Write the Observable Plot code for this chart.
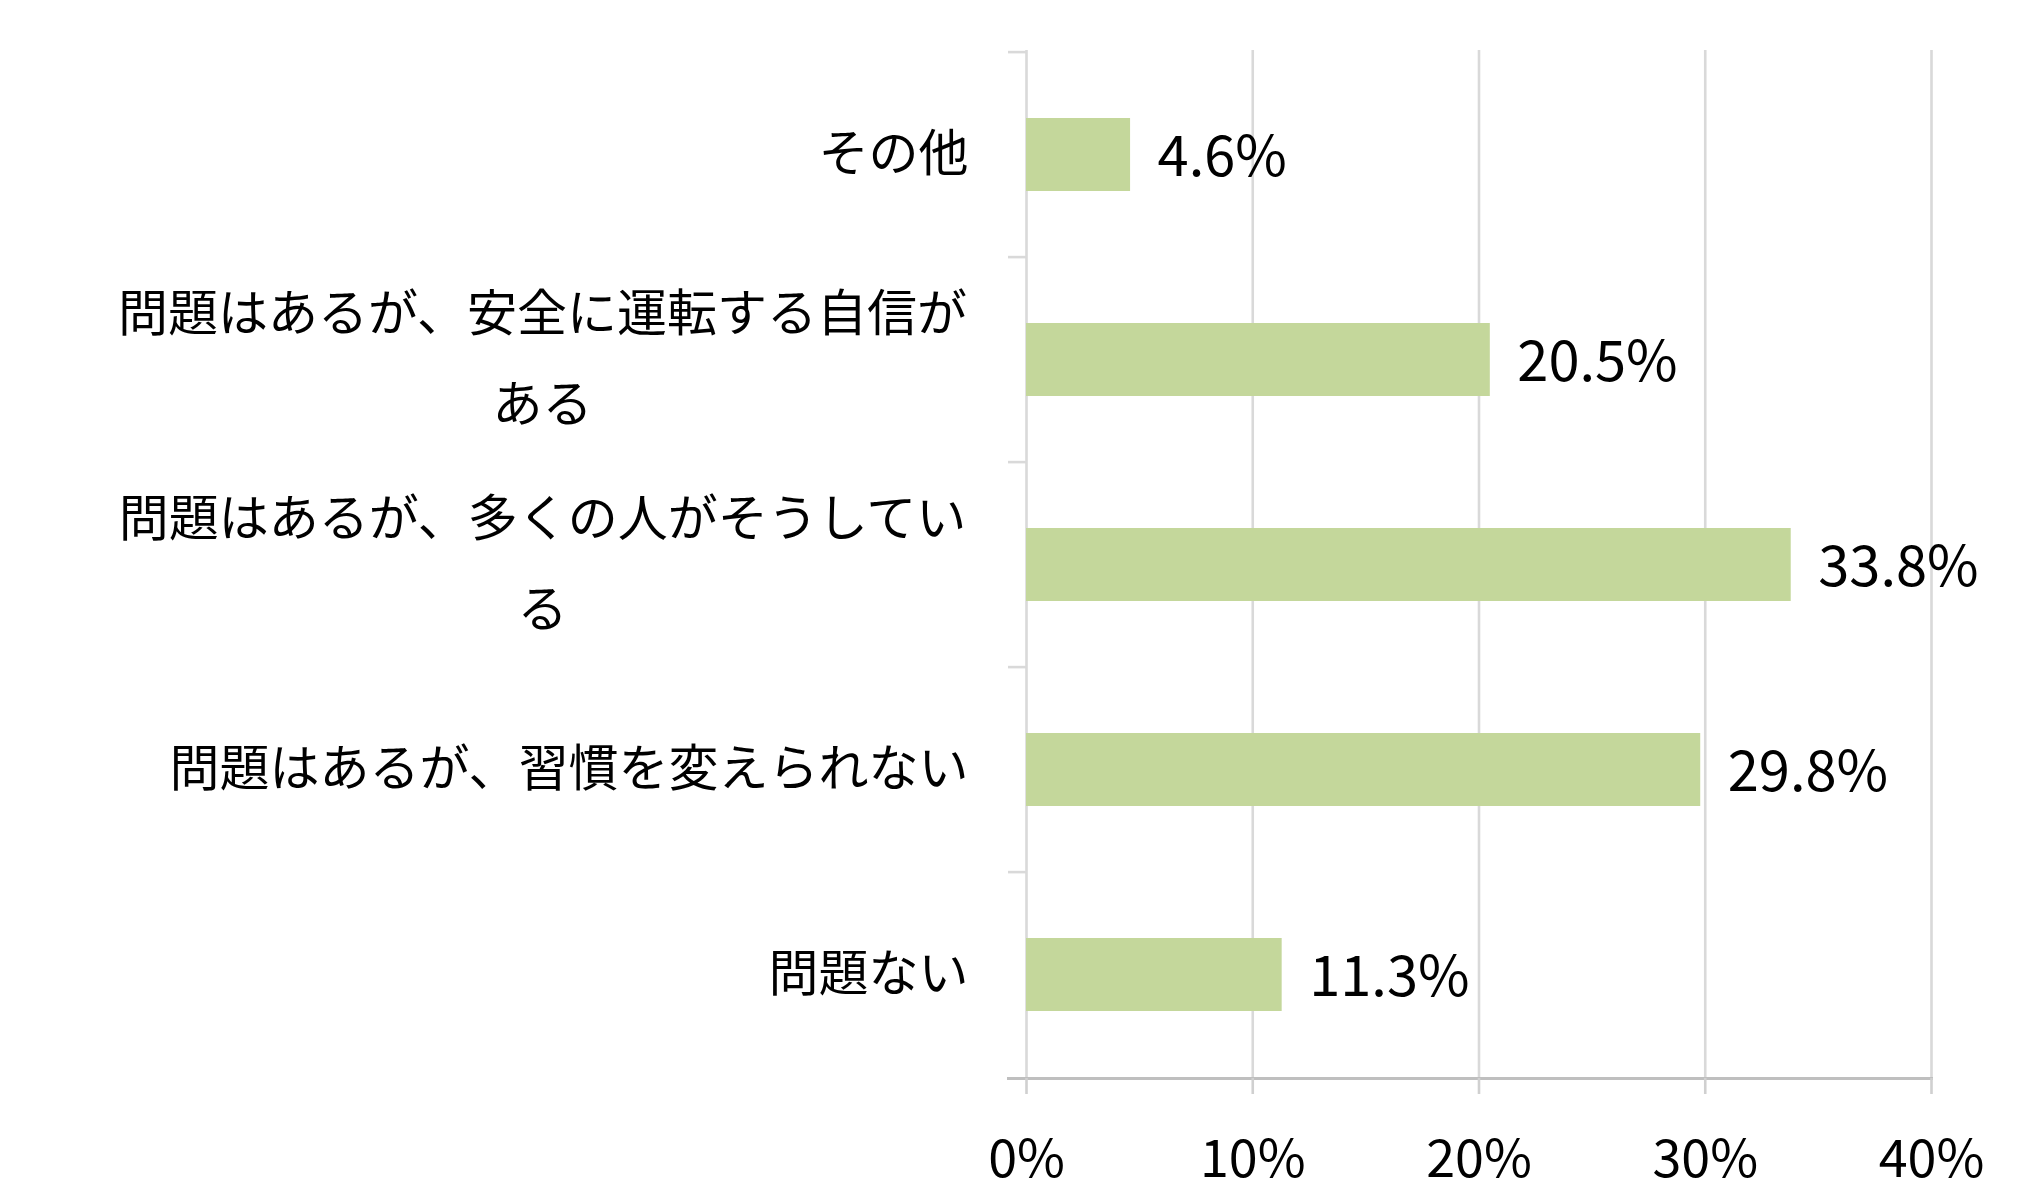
<!DOCTYPE html>
<html>
<head>
<meta charset="utf-8">
<script src="https://cdn.jsdelivr.net/npm/d3@7"></script>
<script src="https://cdn.jsdelivr.net/npm/@observablehq/plot@0.6"></script>
<style>
  html, body { margin: 0; padding: 0; background: #fff; }
</style>
</head>
<body>
<div id="chart"></div>
<script>
const categories = [
  "その他",
  "問題はあるが、安全に運転する自信が\nある",
  "問題はあるが、多くの人がそうしてい\nる",
  "問題はあるが、習慣を変えられない",
  "問題ない"
];
const values = [4.6, 20.5, 33.8, 29.8, 11.3];
const xTicks = [0, 10, 20, 30, 40];

const data = categories.map((c, i) => ({category: c, value: values[i]}));
const singleLine = data.filter(d => !d.category.includes("\n"));
const multiLine = data.filter(d => d.category.includes("\n"));

const chart = Plot.plot({
  width: 2042,
  height: 1200,
  marginTop: 50,
  marginBottom: 122,
  marginLeft: 1026,
  marginRight: 111,
  style: {fontFamily: "'Noto Sans CJK JP', 'Noto Sans', sans-serif", background: "#fff", color: "#000"},
  x: {domain: [0, 40], ticks: xTicks, label: null},
  y: {domain: categories, paddingInner: 0.645, paddingOuter: 0.3225, axis: null},
  marks: [
    Plot.gridX(xTicks, {stroke: "#d9d9d9", strokeOpacity: 1, strokeWidth: 2.6}),
    Plot.ruleY(categories, {y: d => d, x1: 0, x2: 0, insetLeft: -18, dy: -102.9, stroke: "#d9d9d9", strokeWidth: 2.6}),
    Plot.barX(data, {x: "value", y: "category", fill: "#c4d79b"}),
    Plot.frame({anchor: "bottom", stroke: "#bfbfbf", strokeWidth: 3, insetLeft: -18}),
    Plot.axisX(xTicks, {
      label: null,
      tickSize: 16, tickPadding: 46, stroke: "#d0d0d0", strokeWidth: 2.6,
      tickFormat: d => d + "%", fontSize: 52, fill: "#000"
    }),
    Plot.text(data, {
      x: "value", y: "category", text: d => d.value.toFixed(1) + "%",
      textAnchor: "start", dx: 27, dy: 3, fontSize: 56, fill: "#000"
    }),
    Plot.text(singleLine, {
      y: "category", text: "category", frameAnchor: "left",
      textAnchor: "end", dx: -58, fontSize: 50, fill: "#000"
    }),
    Plot.text(multiLine, {
      y: "category", text: "category", frameAnchor: "left",
      textAnchor: "middle", dx: -484, dy: -13, lineHeight: 1.82, fontSize: 50, fill: "#000"
    })
  ]
});
document.getElementById("chart").appendChild(chart);
</script>
</body>
</html>
